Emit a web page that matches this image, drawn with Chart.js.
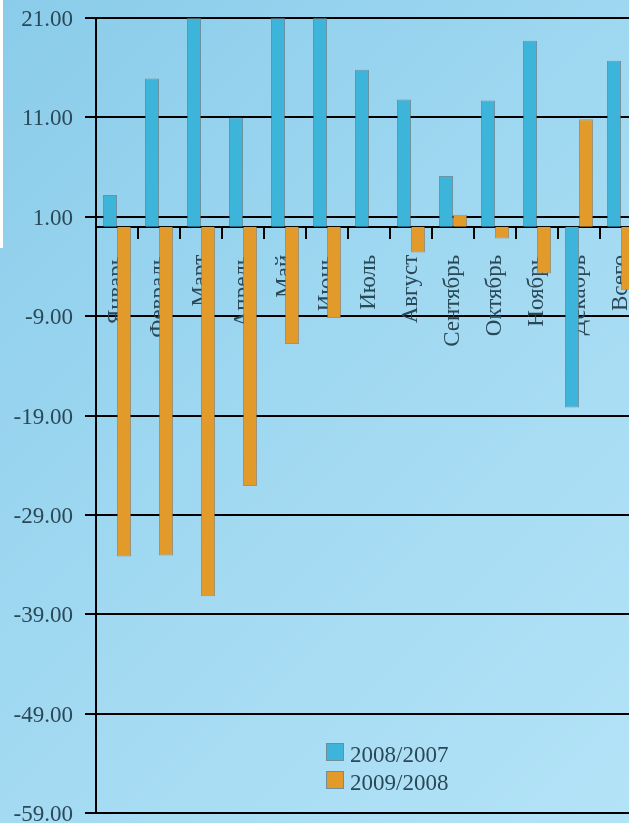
<!DOCTYPE html>
<html>
<head>
<meta charset="utf-8">
<script src="https://cdn.jsdelivr.net/npm/chart.js@4.4.0/dist/chart.umd.min.js"></script>
<style>
  html, body { margin: 0; padding: 0; width: 629px; height: 823px; overflow: hidden; }
  body { background: linear-gradient(135deg, #8accea 0%, #a3daf2 55%, #b3e3f7 100%); position: relative; font-family: 'Liberation Serif', serif; }
  #c { position: absolute; left: 0; top: 0; }
  #strip { position: absolute; left: 0; top: 0; width: 3px; height: 248px; background: #ffffff; }
  .leg { position: absolute; left: 326px; height: 28px; line-height: 28px; font-size: 23px; color: #2b4857; white-space: nowrap; }
  .sw { display: inline-block; width: 16px; height: 16px; border: 1px solid #6d8f99; vertical-align: top; margin-top: 2px; margin-right: 6px; }
</style>
</head>
<body>
<div id="strip"></div>
<canvas id="c" width="660" height="840"></canvas>
<div id="legend"></div>
<script>
const categories = ['Январь','Февраль','Март','Апрель','Май','Июнь','Июль','Август','Сентябрь','Октябрь','Ноябрь','Декабрь','Всего'];
const seriesNames = ['2008/2007', '2009/2008'];
const values2008 = [3.2, 14.9, 21, 11.0, 21, 21, 15.8, 12.8, 5.1, 12.7, 18.7, -18.2, 16.7];
const values2009 = [-33.2, -33.1, -37.2, -26.1, -11.8, -9.2, 0, -2.6, 1.2, -1.2, -4.7, 10.8, -6.4];
const yTicks = [-59, -49, -39, -29, -19, -9, 1, 11, 21];
const seriesColors = ['#3db4da', '#e29b2b'];

Chart.defaults.font.family = "'Liberation Serif', serif";

const ctx = document.getElementById('c');
new Chart(ctx, {
  type: 'bar',
  data: {
    labels: categories,
    datasets: [
      { label: seriesNames[0], data: values2008, backgroundColor: seriesColors[0], borderColor: 'rgba(90,120,130,0.7)', borderWidth: 1, categoryPercentage: 0.667, barPercentage: 1 },
      { label: seriesNames[1], data: values2009, backgroundColor: seriesColors[1], borderColor: 'rgba(150,120,80,0.7)', borderWidth: 1, categoryPercentage: 0.667, barPercentage: 1 }
    ]
  },
  options: {
    responsive: false,
    animation: false,
    devicePixelRatio: 1,
    layout: { padding: { left: 0, top: 18, right: 18, bottom: 27 } },
    plugins: { legend: { display: false }, tooltip: { enabled: false } },
    scales: {
      x: {
        position: { y: 0 },
        offset: true,
        afterFit: (scale) => { scale.paddingLeft = 0; scale.paddingRight = 0; scale.paddingTop = 0; scale.paddingBottom = 0; },
        grid: { drawOnChartArea: false, drawTicks: true, tickLength: 11, color: '#000', lineWidth: 2, offset: true },
        border: { display: true, color: '#000', width: 2 },
        ticks: { autoSkip: false, minRotation: 90, maxRotation: 90, padding: 17, color: '#2b4857', font: { size: 23 } }
      },
      y: {
        min: yTicks[0],
        max: yTicks[yTicks.length - 1],
        afterBuildTicks: (scale) => { scale.ticks = yTicks.map(v => ({ value: v })); },
        afterFit: (scale) => { scale.width = 96; scale.paddingTop = 0; scale.paddingBottom = 0; },
        grid: { color: '#000', lineWidth: 2, tickLength: 11, drawTicks: true },
        border: { display: true, color: '#000', width: 2 },
        ticks: { padding: 12, labelOffset: 2, color: '#2b4857', font: { size: 23 }, callback: (v) => Number(v).toFixed(2) }
      }
    }
  }
});

const legend = document.getElementById('legend');
seriesNames.forEach((name, i) => {
  const row = document.createElement('div');
  row.className = 'leg';
  row.style.top = (741 + i * 28) + 'px';
  const sw = document.createElement('span');
  sw.className = 'sw';
  sw.style.background = seriesColors[i];
  row.appendChild(sw);
  row.appendChild(document.createTextNode(name));
  legend.appendChild(row);
});
</script>
</body>
</html>
